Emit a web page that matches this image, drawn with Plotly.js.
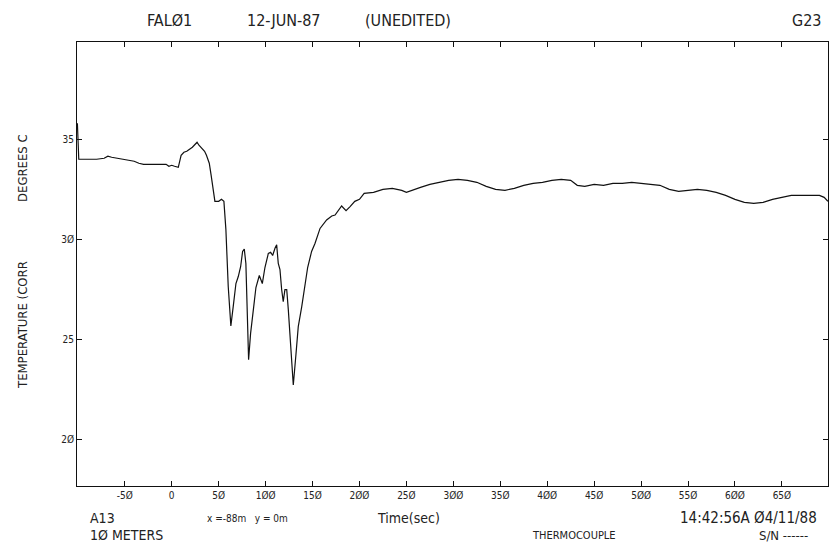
<!DOCTYPE html>
<html><head><meta charset="utf-8">
<script src="https://cdn.plot.ly/plotly-3.0.1.min.js"></script>
<style>html,body{margin:0;padding:0;background:#fff;}#chart{width:833px;height:557px;}</style>
</head><body><div id="chart"></div>
<script>
const timeSec = [-100.5,-99,-90,-80,-72,-68,-64,-58,-50,-40,-35,-30,-20,-6,-3,0,3,7,10,13,16,19,22,25,27,29,32,35,37,40,42,44,46,50,53,55.6,57.7,60.2,63,65.5,68.4,70.9,73.4,75.5,77.3,79,80.5,81.9,84,86.9,89.7,93.3,96.5,99.3,102.9,105.4,107.5,110,111.8,113.5,115.3,117.1,118.8,120.6,122.5,124.2,126.7,129.5,132.4,134.8,138.5,142,144.8,149,152.6,158,165,170.5,174,181,185.7,190,195,200,205,215,225,235,245,250,258,265,275,285,295,305,315,325,335,345,355,365,375,385,395,405,415,425,432,440,450,460,470,480,490,500,510,520,530,540,550,560,570,580,590,600,610,620,630,640,650,660,670,680,690,695,699];
const tempC = [35.8,34.0,34.0,34.0,34.05,34.15,34.1,34.05,34.0,33.9,33.8,33.75,33.75,33.75,33.65,33.7,33.65,33.6,34.2,34.35,34.4,34.5,34.6,34.75,34.85,34.7,34.55,34.4,34.2,33.8,33.2,32.4,31.9,31.9,32.0,31.9,30.5,27.65,25.69,26.65,27.8,28.15,28.64,29.4,29.52,28.8,26.8,24.0,25.3,26.5,27.6,28.2,27.8,28.6,29.3,29.36,29.2,29.56,29.73,28.8,28.5,27.5,26.9,27.5,27.5,26.5,24.65,22.74,24.3,25.65,26.65,27.65,28.6,29.4,29.8,30.55,30.97,31.17,31.22,31.67,31.44,31.64,31.9,32.0,32.3,32.35,32.5,32.55,32.45,32.35,32.5,32.6,32.75,32.85,32.95,33.0,32.95,32.85,32.65,32.5,32.45,32.55,32.7,32.8,32.85,32.95,33.0,32.95,32.7,32.65,32.75,32.7,32.8,32.8,32.85,32.8,32.75,32.7,32.5,32.4,32.45,32.5,32.45,32.35,32.2,32.0,31.85,31.8,31.85,32.0,32.1,32.2,32.2,32.2,32.2,32.1,31.9];
const xTickVals = [-50,0,50,100,150,200,250,300,350,400,450,500,550,600,650];
const xTickText = ['-5Ø','0','5Ø','1ØØ','15Ø','2ØØ','25Ø','3ØØ','35Ø','4ØØ','45Ø','5ØØ','55Ø','6ØØ','65Ø'];
const yTickVals = [20,25,30,35];
const yTickText = ['2Ø','25','3Ø','35'];

const W=833,H=557,L=77,R=5,T=42,B=71;
const pw=W-L-R, ph=H-T-B;
const FONT="'DejaVu Sans Condensed','Liberation Sans Narrow','Liberation Sans',sans-serif";
function ann(text,px,py,size,xanchor,angle){
  return {text:text,xref:'paper',yref:'paper',x:(px-L)/pw,y:(H-B-py)/ph,
    xanchor:xanchor||'left',yanchor:'middle',showarrow:false,textangle:angle||0,
    font:{family:FONT,size:size,color:'#222'}};
}
const annotations=[
  ann('FALØ1',145,20,16),
  ann('12-JUN-87',245,20,16),
  ann('(UNEDITED)',363,20,16),
  ann('G23',790,20,16),
  ann('DEGREES C',22,168,13,'center',-90),
  ann('TEMPERATURE (CORR',22,325,13,'center',-90),
  ann('A13',88,518,14),
  ann('x =-88m   y = 0m',205,518,10),
  ann('Time(sec)',375,518,14),
  ann('14:42:56A Ø4/11/88',678,518,15),
  ann('1Ø METERS',88,535,14),
  ann('THERMOCOUPLE',530,535,11),
  ann('S/N ------',757,535,13)
];
const axisCommon={showline:true,linecolor:'#111',linewidth:1,mirror:'ticks',ticks:'inside',ticklen:5,tickcolor:'#111',showgrid:false,zeroline:false,tickfont:{family:FONT,size:10,color:'#222'},fixedrange:true};
Plotly.newPlot('chart',[{x:timeSec,y:tempC,type:'scatter',mode:'lines',line:{color:'#111',width:1.2},hoverinfo:'skip'}],{
  width:W,height:H,margin:{l:L,r:R,t:T,b:B},paper_bgcolor:'#fff',plot_bgcolor:'#fff',showlegend:false,
  xaxis:Object.assign({},axisCommon,{range:[-100.9,699.1],tickmode:'array',tickvals:xTickVals,ticktext:xTickText}),
  yaxis:Object.assign({},axisCommon,{range:[17.7,39.85],tickmode:'array',tickvals:yTickVals,ticktext:yTickText}),
  annotations:annotations
},{staticPlot:true});
</script></body></html>
